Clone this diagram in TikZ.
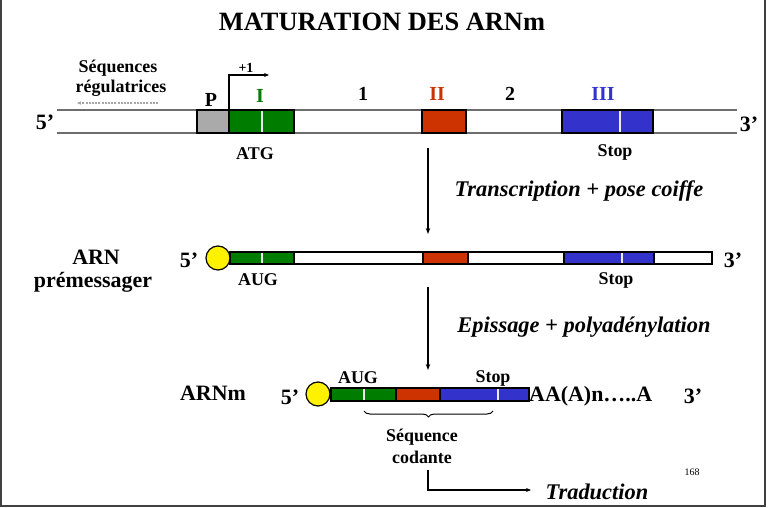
\documentclass[tikz,border=0pt]{standalone}
\usepackage{fontspec}
\setmainfont{Liberation Serif}
\usetikzlibrary{decorations.pathreplacing,arrows.meta}
\definecolor{exg}{RGB}{0,125,0}
\definecolor{exr}{RGB}{204,51,0}
\definecolor{exb}{RGB}{51,51,204}
\definecolor{prom}{RGB}{170,170,170}
\definecolor{strandgray}{RGB}{110,110,110}
\begin{document}
\begin{tikzpicture}[x=1bp,y=-1bp,
 lbl/.style={font=\fontsize{18}{20}\selectfont\bfseries, inner sep=0pt},
 num/.style={font=\fontsize{20}{22}\selectfont\bfseries, inner sep=0pt},
 big/.style={font=\fontsize{22}{25}\selectfont\bfseries, inner sep=0pt, align=center},
 ital/.style={font=\fontsize{22.5}{26}\selectfont\bfseries\itshape, inner sep=0pt},
 exon/.style={draw=black, line width=1.2bp},
 divider/.style={draw=white!85!gray, line width=1.2bp},
 arr/.style={-{Stealth[length=6bp,width=4.5bp]}, line width=1.5bp}]
\useasboundingbox (0,0) rectangle (768,508);
\draw[line width=1.5bp, black!75] (1,0) -- (1,506) -- (765,506) -- (765,0);

\node[font=\fontsize{26.5}{30}\selectfont\bfseries, inner sep=0pt] (title) at (382,22) {MATURATION DES ARNm};

% ---------- DNA ----------
\draw[strandgray, line width=1.8bp] (57,110) -- (737,110) (57,133) -- (737,133);
\filldraw[exon, fill=prom] (197,110) rectangle (229,133);
\filldraw[exon, fill=exg] (229,110) rectangle (294,133);
\draw[divider] (262,111) -- (262,132);
\filldraw[exon, fill=exr] (422,110) rectangle (466,133);
\filldraw[exon, fill=exb] (562,110) rectangle (653,133);
\draw[divider] (620,111) -- (620,132);

\node[big] (d5) at (45,122) {5’};
\node[big] (d3) at (749,124) {3’};
\node[num] (lP) at (211,100) {P};
\node[num, text=exg] (lI) at (260,96) {I};
\node[num] (l1) at (363,94) {1};
\node[num, text=exr] (lII) at (437,94) {II};
\node[num] (l2) at (510,94) {2};
\node[num, text=exb] (lIII) at (603,94) {III};
\node[font=\fontsize{14}{16}\selectfont\bfseries, inner sep=0pt] (plus1) at (246,68) {+1};
\coordinate (tss) at (229,110);
\coordinate (tssend) at (269,75);
\draw[line width=1.2bp, -{Stealth[length=5bp,width=4bp]}] (tss) |- (tssend);

\node[lbl] (seq1) at (118,68) {Séquences};
\node[lbl] (seq2) at (121,88) {régulatrices};
\coordinate (ds) at (158,103);
\coordinate (de) at (77,103);
\draw[gray!70, dash pattern=on 2bp off 1.2bp, line width=1.6bp, -{Stealth[length=4bp,width=3.5bp]}] (ds) -- (de);

\node[lbl] (atg) at (255,154) {ATG};
\node[lbl] (stop1) at (615,152) {Stop};

\coordinate (a1s) at (428,148);
\coordinate (a1e) at (428,234);
\draw[arr] (a1s) -- (a1e);
\node[ital] (transc) at (579,191) {Transcription + pose coiffe};

% ---------- pre-mRNA ----------
\node[big] (arn1) at (96,257) {ARN};
\node[big] (arn2) at (93,282) {prémessager};
\filldraw[exon, fill=white] (230,252) rectangle (712,264);
\filldraw[exon, fill=exg] (230,252) rectangle (294,264);
\draw[divider] (262,253) -- (262,263);
\filldraw[exon, fill=exr] (423,252) rectangle (468,264);
\filldraw[exon, fill=exb] (564,252) rectangle (654,264);
\draw[divider] (622,253) -- (622,263);
\node[draw=black, line width=1.2bp, fill=yellow, circle, minimum size=24bp, inner sep=0pt] (cap1) at (218,258) {};
\node[big] (p5) at (189,260) {5’};
\node[big] (p3) at (733,260) {3’};
\node[lbl] (aug1) at (258,280) {AUG};
\node[lbl] (stop2) at (616,280) {Stop};

\coordinate (a2s) at (428,287);
\coordinate (a2e) at (428,370);
\draw[arr] (a2s) -- (a2e);
\node[ital] (epis) at (584,327) {Epissage + polyadénylation};

% ---------- mRNA ----------
\node[big] (arnm) at (213,393) {ARNm};
\filldraw[exon, fill=exg] (331,388) rectangle (396,401);
\draw[divider] (364,389) -- (364,400);
\filldraw[exon, fill=exr] (396,388) rectangle (440,401);
\filldraw[exon, fill=exb] (440,388) rectangle (529,401);
\draw[divider] (498,389) -- (498,400);
\node[draw=black, line width=1.2bp, fill=yellow, circle, minimum size=24bp, inner sep=0pt] (cap2) at (318,394) {};
\node[big] (m5) at (290,397) {5’};
\node[big, anchor=west] (polyA) at (529,396) {AA(A)n…..A};
\node[big] (m3) at (693,396) {3’};
\node[lbl] (aug2) at (358,378) {AUG};
\node[lbl] (stop3) at (493,378) {Stop};
\coordinate (bl) at (364,411);
\coordinate (br) at (493,411);
\draw[decorate, decoration={brace, mirror, amplitude=6bp}, line width=1bp] (bl) -- (br);
\node[lbl, align=center, font=\fontsize{18}{22}\selectfont\bfseries] (codante) at (422,446) {Séquence\\codante};
\coordinate (ts) at (428,470);
\coordinate (te) at (531,490);
\draw[arr, line width=1.3bp, -{Stealth[length=5bp,width=4bp]}] (ts) |- (te);
\node[ital] (trad) at (597,492) {Traduction};
\node[font=\fontsize{10}{11}\selectfont, inner sep=0pt] (pg) at (692,472) {168};
\end{tikzpicture}
\end{document}
